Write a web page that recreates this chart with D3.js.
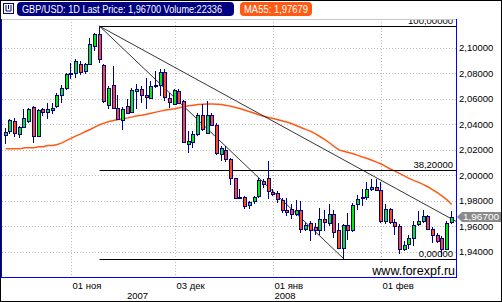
<!DOCTYPE html>
<html>
<head>
<meta charset="utf-8">
<script src="https://cdn.jsdelivr.net/npm/d3@7"></script>
<style>
body{margin:0;background:#fff;}
svg{display:block;}
text{font-family:"Liberation Sans",Arial,sans-serif;}
</style>
</head>
<body>
<script>
// daily GBP/USD, weekdays 12 Oct 2007 .. 22 Feb 2008
var dates = [
  "2007-10-12","2007-10-15","2007-10-16","2007-10-17","2007-10-18","2007-10-19","2007-10-22","2007-10-23","2007-10-24","2007-10-25","2007-10-26","2007-10-29","2007-10-30","2007-10-31",
  "2007-11-01","2007-11-02","2007-11-05","2007-11-06","2007-11-07","2007-11-08","2007-11-09","2007-11-12","2007-11-13","2007-11-14","2007-11-15","2007-11-16","2007-11-19","2007-11-20","2007-11-21","2007-11-22","2007-11-23","2007-11-26","2007-11-27","2007-11-28","2007-11-29","2007-11-30",
  "2007-12-03","2007-12-04","2007-12-05","2007-12-06","2007-12-07","2007-12-10","2007-12-11","2007-12-12","2007-12-13","2007-12-14","2007-12-17","2007-12-18","2007-12-19","2007-12-20","2007-12-21","2007-12-24","2007-12-25","2007-12-26","2007-12-27","2007-12-28","2007-12-31",
  "2008-01-01","2008-01-02","2008-01-03","2008-01-04","2008-01-07","2008-01-08","2008-01-09","2008-01-10","2008-01-11","2008-01-14","2008-01-15","2008-01-16","2008-01-17","2008-01-18","2008-01-21","2008-01-22","2008-01-23","2008-01-24","2008-01-25","2008-01-28","2008-01-29","2008-01-30","2008-01-31",
  "2008-02-01","2008-02-04","2008-02-05","2008-02-06","2008-02-07","2008-02-08","2008-02-11","2008-02-12","2008-02-13","2008-02-14","2008-02-15","2008-02-18","2008-02-19","2008-02-20","2008-02-21","2008-02-22"
];

var opens = [
  2.0313,2.0349,2.0427,2.0323,2.0378,2.0422,2.0535,2.0305,2.0514,2.0495,2.0509,2.0540,2.0631,2.0684,
  2.0800,2.0801,2.0872,2.0814,2.0872,2.1010,2.1102,2.0859,2.0548,2.0702,2.0527,2.0435,2.0545,2.0493,2.0658,2.0671,2.0629,2.0605,2.0697,2.0702,2.0809,2.0605,
  2.0558,2.0658,2.0579,2.0247,2.0260,2.0318,2.0474,2.0331,2.0474,2.0396,2.0161,2.0200,2.0122,1.9973,1.9829,1.9829,1.9763,1.9800,1.9834,1.9952,1.9978,
  1.9870,1.9860,1.9803,1.9729,1.9737,1.9698,1.9722,1.9578,1.9625,1.9591,1.9565,1.9651,1.9625,1.9698,1.9565,1.9429,1.9607,1.9565,1.9776,1.9826,1.9829,1.9892,1.9907,
  1.9886,1.9643,1.9735,1.9630,1.9599,1.9421,1.9460,1.9507,1.9612,1.9643,1.9677,1.9578,1.9526,1.9507,1.9416,1.9630
];
var highs = [
  2.0370,2.0441,2.0446,2.0388,2.0514,2.0527,2.0545,2.0514,2.0527,2.0561,2.0566,2.0645,2.0702,2.0801,
  2.0880,2.0906,2.0893,2.0880,2.1076,2.1115,2.1167,2.0867,2.0697,2.0854,2.0624,2.0535,2.0597,2.0684,2.0710,2.0697,2.0762,2.0736,2.0815,2.0828,2.0828,2.0645,
  2.0671,2.0671,2.0592,2.0344,2.0344,2.0488,2.0553,2.0579,2.0488,2.0409,2.0226,2.0226,2.0135,1.9978,1.9891,1.9834,1.9800,1.9839,1.9978,1.9970,2.0108,
  1.9889,1.9873,1.9821,1.9821,1.9769,1.9803,1.9795,1.9625,1.9638,1.9625,1.9742,1.9729,1.9769,1.9729,1.9625,1.9612,1.9703,1.9782,1.9847,1.9892,1.9944,1.9970,1.9965,
  1.9944,1.9769,1.9742,1.9651,1.9612,1.9481,1.9533,1.9638,1.9716,1.9729,1.9690,1.9593,1.9546,1.9520,1.9638,1.9716
];
var lows = [
  2.0247,2.0318,2.0299,2.0292,2.0370,2.0409,2.0252,2.0300,2.0461,2.0443,2.0475,2.0527,2.0566,2.0665,
  2.0754,2.0762,2.0788,2.0796,2.0867,2.0971,2.0880,2.0566,2.0514,2.0519,2.0435,2.0352,2.0482,2.0488,2.0519,2.0566,2.0519,2.0600,2.0684,2.0619,2.0579,2.0527,
  2.0548,2.0553,2.0252,2.0174,2.0213,2.0305,2.0344,2.0318,2.0383,2.0153,2.0109,2.0101,1.9918,1.9813,1.9808,1.9735,1.9730,1.9769,1.9821,1.9899,1.9808,
  1.9837,1.9782,1.9703,1.9677,1.9651,1.9677,1.9546,1.9559,1.9481,1.9533,1.9533,1.9559,1.9599,1.9507,1.9424,1.9343,1.9494,1.9552,1.9729,1.9755,1.9803,1.9873,1.9873,
  1.9625,1.9612,1.9612,1.9533,1.9377,1.9403,1.9416,1.9442,1.9599,1.9625,1.9573,1.9463,1.9468,1.9358,1.9411,1.9612
];
var closes = [
  2.0339,2.0435,2.0326,2.0378,2.0448,2.0514,2.0305,2.0506,2.0495,2.0514,2.0529,2.0631,2.0684,2.0796,
  2.0803,2.0893,2.0807,2.0867,2.1024,2.1102,2.0911,2.0579,2.0684,2.0527,2.0441,2.0519,2.0488,2.0663,2.0671,2.0629,2.0611,2.0697,2.0707,2.0809,2.0611,2.0574,
  2.0663,2.0566,2.0257,2.0265,2.0318,2.0474,2.0357,2.0474,2.0396,2.0169,2.0208,2.0122,1.9978,1.9821,1.9816,1.9756,1.9789,1.9826,1.9957,1.9926,1.9873,
  1.9852,1.9808,1.9724,1.9711,1.9698,1.9724,1.9578,1.9604,1.9565,1.9565,1.9651,1.9635,1.9698,1.9552,1.9429,1.9607,1.9565,1.9761,1.9813,1.9831,1.9892,1.9907,1.9886,
  1.9638,1.9735,1.9630,1.9599,1.9421,1.9452,1.9507,1.9604,1.9643,1.9677,1.9578,1.9526,1.9481,1.9421,1.9625,1.9670
];
var ma55 = [
  2.0205,2.0205,2.0205,2.0205,2.0213,2.0213,2.0213,2.0221,2.0221,2.0231,2.0231,2.0239,2.0252,2.0271,
  2.0289,2.0307,2.0323,2.0341,2.0357,2.0375,2.0394,2.0407,2.0420,2.0428,2.0435,2.0441,2.0448,2.0456,2.0464,2.0469,2.0477,2.0485,2.0493,2.0501,2.0509,2.0514,
  2.0519,2.0527,2.0538,2.0544,2.0548,2.0552,2.0555,2.0557,2.0557,2.0555,2.0552,2.0546,2.0539,2.0530,2.0519,2.0508,2.0496,2.0484,2.0471,2.0460,2.0451,
  2.0443,2.0434,2.0424,2.0414,2.0402,2.0386,2.0371,2.0356,2.0342,2.0322,2.0300,2.0278,2.0251,2.0223,2.0197,2.0186,2.0177,2.0166,2.0154,2.0141,2.0129,2.0116,2.0101,
  2.0086,2.0065,2.0045,2.0028,2.0011,1.9991,1.9972,1.9956,1.9942,1.9925,1.9906,1.9884,1.9859,1.9834,1.9805,1.9768
];

var yTicks = [1.94,1.96,1.98,2.00,2.02,2.04,2.06,2.08,2.10];
var xTickDates = ["2007-11-01","2007-12-03","2008-01-01","2008-02-01"];
var xTickLabels = ["01 ноя","03 дек","01 янв","01 фев"];
var years = ["2007","2008"];

// fibonacci: swing high -> swing low
var fibPoints = [["2007-11-09",2.1167],["2008-01-22",1.9343]];
var fibLevels = [100,38.2,0];
var trendPoints = [["2007-11-09",2.1167],["2008-02-22",1.9655]];

var title = "GBP/USD: 1D Last Price: 1,96700 Volume:22336";
var maTitle = "MA55: 1,97679";
var lastPrice = 1.967;

var W = 502, H = 302;
var pl = 2, pr = 456, pt = 19, pb = 278;

var comma = function(v){ return d3.format(".5f")(v).replace(".",","); };

var svg = d3.select("body").append("svg")
  .attr("width",W)
  .attr("height",H);

svg.append("rect")
  .attr("x",0.5).attr("y",0.5)
  .attr("width",W-1).attr("height",H-1)
  .attr("fill","#fff").attr("stroke","#000");

var x = d3.scaleBand().domain(dates).range([3.35,454.05]).padding(0);
var cx = function(d){ return x(d) + x.bandwidth()/2; };
var y = d3.scaleLinear().domain([1.94,2.10]).range([251.5,47.5]);

svg.append("clipPath").attr("id","plotclip")
  .append("rect").attr("x",pl).attr("y",pt).attr("width",pr-pl).attr("height",pb-pt);

var g = svg.append("g").attr("clip-path","url(#plotclip)");

// grid
g.selectAll(".hgrid").data(yTicks).enter().append("line")
  .attr("x1",pl).attr("x2",pr)
  .attr("y1",function(d){ return Math.round(y(d))+0.5; })
  .attr("y2",function(d){ return Math.round(y(d))+0.5; })
  .attr("stroke","#bdbdbd").attr("stroke-dasharray","1,2");

g.selectAll(".vgrid").data(xTickDates).enter().append("line")
  .attr("x1",function(d){ return Math.round(cx(d))+0.5; })
  .attr("x2",function(d){ return Math.round(cx(d))+0.5; })
  .attr("y1",pt).attr("y2",pb)
  .attr("stroke","#bdbdbd").attr("stroke-dasharray","1,2");

// moving average
var maLine = d3.line()
  .x(function(d,i){ return cx(dates[i]); })
  .y(function(d){ return y(d); });
g.append("path").datum(ma55)
  .attr("d",maLine)
  .attr("fill","none").attr("stroke","#ff5a14").attr("stroke-width",1.5);

// fibonacci levels
var fHigh = fibPoints[0][1], fLow = fibPoints[1][1];
var fx0 = cx(fibPoints[0][0]);
g.selectAll(".fib").data(fibLevels).enter().append("line")
  .attr("x1",fx0).attr("x2",pr)
  .attr("y1",function(d){ return Math.round(y(fLow + (fHigh-fLow)*d/100))+0.5; })
  .attr("y2",function(d){ return Math.round(y(fLow + (fHigh-fLow)*d/100))+0.5; })
  .attr("stroke","#000");

g.selectAll(".fibtext").data(fibLevels).enter().append("text")
  .attr("x",453)
  .attr("y",function(d){ return Math.round(y(fLow + (fHigh-fLow)*d/100)) - 2; })
  .attr("text-anchor","end")
  .attr("font-size","9.5px")
  .text(function(d){ return comma(d); });

// trend lines
g.append("line")
  .attr("x1",cx(fibPoints[0][0])).attr("y1",y(fibPoints[0][1]))
  .attr("x2",cx(fibPoints[1][0])).attr("y2",y(fibPoints[1][1]))
  .attr("stroke","#000").attr("stroke-width",0.8);

var tx0 = cx(trendPoints[0][0]), ty0 = y(trendPoints[0][1]);
var tx1 = cx(trendPoints[1][0]), ty1 = y(trendPoints[1][1]);
var slope = (ty1-ty0)/(tx1-tx0);
g.append("line")
  .attr("x1",tx0).attr("y1",ty0)
  .attr("x2",pr).attr("y2",ty0 + slope*(pr-tx0))
  .attr("stroke","#000").attr("stroke-width",0.8);

// candles
var candles = dates.map(function(d,i){
  return {date:d, o:opens[i], h:highs[i], l:lows[i], c:closes[i]};
});

var cg = g.selectAll(".candle").data(candles).enter().append("g");

cg.append("line")
  .attr("x1",function(d){ return Math.round(cx(d.date))-0.5; })
  .attr("x2",function(d){ return Math.round(cx(d.date))-0.5; })
  .attr("y1",function(d){ return Math.round(y(d.h)); })
  .attr("y2",function(d){ return Math.round(y(d.l)); })
  .attr("stroke","#00008c");

cg.append("rect")
  .attr("x",function(d){ return Math.round(cx(d.date))-1.5; })
  .attr("width",3)
  .attr("y",function(d){ return Math.round(y(Math.max(d.o,d.c)))+0.5; })
  .attr("height",function(d){ return Math.max(1, Math.round(y(Math.min(d.o,d.c))) - Math.round(y(Math.max(d.o,d.c)))); })
  .attr("fill",function(d){ return d.c >= d.o ? "#00ee00" : "#ff4a14"; })
  .attr("stroke","#00008c");

// watermark
g.append("text")
  .attr("x",455).attr("y",275)
  .attr("text-anchor","end")
  .attr("font-size","12.5px")
  .text("www.forexpf.ru");

// plot frame
svg.append("line").attr("x1",1).attr("x2",457).attr("y1",19.5).attr("y2",19.5).attr("stroke","#c8c8c8");
svg.append("line").attr("x1",1.5).attr("x2",1.5).attr("y1",19).attr("y2",278).attr("stroke","#0000ff");
svg.append("line").attr("x1",456.5).attr("x2",456.5).attr("y1",19).attr("y2",278).attr("stroke","#0000ff");
svg.append("line").attr("x1",1).attr("x2",457).attr("y1",277.5).attr("y2",277.5).attr("stroke","#0000ff");

// y axis
var yAxis = d3.axisRight(y).tickValues(yTicks).tickSize(0).tickPadding(3).tickFormat(comma);
var ya = svg.append("g").attr("transform","translate(456,0)").call(yAxis);
ya.select(".domain").remove();
ya.selectAll("text").attr("font-size","9.5px").attr("font-family","'Liberation Sans',Arial,sans-serif").attr("fill","#000");

// x axis
var xAxis = d3.axisBottom(x).tickValues(xTickDates).tickSize(0)
  .tickFormat(function(d){ return xTickLabels[xTickDates.indexOf(d)]; });
var xa = svg.append("g").attr("transform","translate(0,278)").call(xAxis);
xa.select(".domain").remove();
xa.selectAll(".tick").attr("transform",function(d){ return "translate(" + (Math.round(cx(d))+1.5) + ",0)"; });
xa.selectAll("text")
  .attr("text-anchor","start").attr("y",11).attr("dy",0)
  .attr("font-size","9.5px").attr("font-family","'Liberation Sans',Arial,sans-serif").attr("fill","#000");

var janX = Math.round(cx(xTickDates[2]));
svg.append("text").attr("x",(pl+janX)/2).attr("y",299).attr("text-anchor","middle").attr("font-size","9.5px").text(years[0]);
svg.append("text").attr("x",janX+1.5).attr("y",299).attr("font-size","9.5px").text(years[1]);

// last price tag
var ly = Math.round(y(lastPrice));
svg.append("path")
  .attr("d","M457," + ly + " L462," + (ly-5) + " L501," + (ly-5) + " L501," + (ly+5) + " L462," + (ly+5) + " Z")
  .attr("fill","#8a8a8a");
svg.append("text").attr("x",463).attr("y",ly+3).attr("font-size","9.5px")
  .attr("textLength",36).attr("lengthAdjust","spacingAndGlyphs")
  .attr("fill","#fff").text(comma(lastPrice));

// header
var hd = svg.append("g");
hd.append("rect").attr("x",3.5).attr("y",3.5).attr("width",10).attr("height",10).attr("fill","#fff").attr("stroke","#00008c");
hd.append("path").attr("d","M6,5 V11 H11 V5 M8.5,5 V9").attr("fill","none").attr("stroke","#00008c");
hd.append("rect").attr("x",17).attr("y",2).attr("width",217).attr("height",14).attr("rx",4).attr("fill","#000080");
hd.append("text").attr("x",22).attr("y",13).attr("font-size","10px")
  .attr("textLength",200).attr("lengthAdjust","spacingAndGlyphs")
  .attr("fill","#fff").text(title);
hd.append("rect").attr("x",240).attr("y",2).attr("width",72).attr("height",14).attr("rx",4).attr("fill","#ff5a14");
hd.append("text").attr("x",244).attr("y",13).attr("font-size","10px")
  .attr("textLength",64).attr("lengthAdjust","spacingAndGlyphs")
  .attr("fill","#fff").text(maTitle);
</script>
</body>
</html>
